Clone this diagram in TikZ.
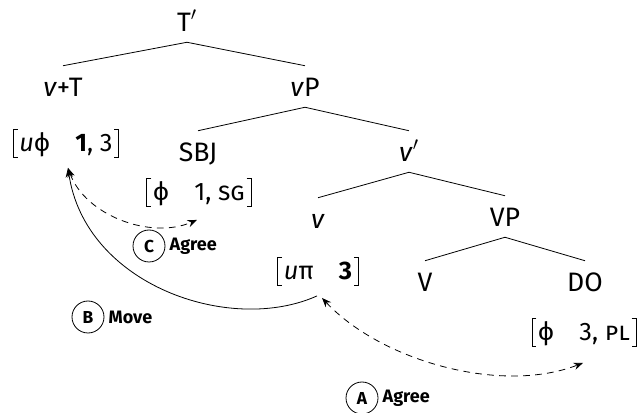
\documentclass[tikz,border=0pt]{standalone}
\usepackage{fontspec}
\setmainfont{Fira Sans}
\usetikzlibrary{arrows.meta,calc}
\newcommand\pr{\raisebox{0.1ex}{$'$}}
\newcommand\brk[1]{%
  \draw[brkline] ($(#1.north west)+(4.5,0)$) -- (#1.north west) -- (#1.south west) -- ++(4.5,0);
  \draw[brkline] ($(#1.north east)+(-4.5,0)$) -- (#1.north east) -- (#1.south east) -- ++(-4.5,0);}
\begin{document}
\begin{tikzpicture}[x=0.75pt,y=-0.75pt,
  lab/.style={inner sep=0pt, text height=13.5pt, text depth=0pt, font=\fontsize{20}{23}\selectfont},
  feat/.style={inner xsep=4.5pt, inner ysep=0pt, text height=13pt, text depth=0pt, minimum height=20.5pt, font=\fontsize{19}{22}\selectfont},
  brkline/.style={line width=0.55pt},
  tedge/.style={line width=0.6pt},
  agr/.style={dashed, dash pattern=on 5pt off 4pt, line width=0.6pt, {Stealth[length=7pt,width=5.5pt]}-{Stealth[length=7pt,width=5.5pt]}},
  mov/.style={line width=0.6pt, -{Stealth[length=7pt,width=5.5pt]}},
  circ/.style={circle, draw, line width=0.6pt, minimum size=24pt, inner sep=0pt, font=\fontsize{13}{15}\selectfont\bfseries},
  ann/.style={inner sep=0pt, anchor=west, font=\fontsize{13.5}{16}\selectfont\bfseries}
]
\useasboundingbox (0,0) rectangle (643,413);
% tree labels
\node[lab] (Tp) at (187,23) {T\pr};
\node[lab] (vT) at (63,88) {\textit{v}+T};
\node[lab] (vP) at (305,88) {\textit{v}P};
\node[lab] (SBJ) at (198,153) {SBJ};
\node[lab] (vbar) at (409,153) {\textit{v}\pr};
\node[lab] (v) at (318,220) {\textit{v}};
\node[lab] (VP) at (505,218) {VP};
\node[lab] (V) at (425,283) {V};
\node[lab] (DO) at (585,283) {DO};
% feature bundles
\node[feat] (F1) at (66,143) {\textit{u}ϕ\hspace{19pt}\textbf{1}, 3};
\node[feat] (F2) at (199,192) {ϕ\hspace{19pt}1, \textsc{sg}};
\node[feat] (F3) at (318,271) {\textit{u}π\hspace{19pt}\textbf{3}};
\node[feat] (F4) at (584,332) {ϕ\hspace{19pt}3, \textsc{pl}};
\brk{F1}\brk{F2}\brk{F3}\brk{F4}
% tree edges
\foreach \p/\c in {Tp/vT, Tp/vP, vP/SBJ, vP/vbar, vbar/v, vbar/VP, VP/V, VP/DO}
  \draw[tedge] ($(\p.south)+(0,10)$) -- ($(\c.north)+(0,-13)$);
% arrows
\draw[agr] ($(F3.south)+(4,13)$) .. controls (380,360) and (500,395) .. ($(F4.south)+(-1,17)$);
\draw[mov] ($(F3.south)+(-1,11)$) .. controls (230,335) and (85,285) .. ($(F1.south)+(2,11)$);
\draw[agr] ($(F1.south)+(2,11)$) .. controls (85,215) and (150,240) .. ($(F2.south)+(-2,14)$);
% annotations
\node[circ] (cC) at (149,246) {C};
\node[ann] (tC) at ($(cC.east)+(4,0)$) {Agree};
\node[circ] (cB) at (88,317) {B};
\node[ann] (tB) at ($(cB.east)+(4,0)$) {Move};
\node[circ] (cA) at (362,398) {A};
\node[ann] (tA) at ($(cA.east)+(4,0)$) {Agree};
\end{tikzpicture}
\end{document}
